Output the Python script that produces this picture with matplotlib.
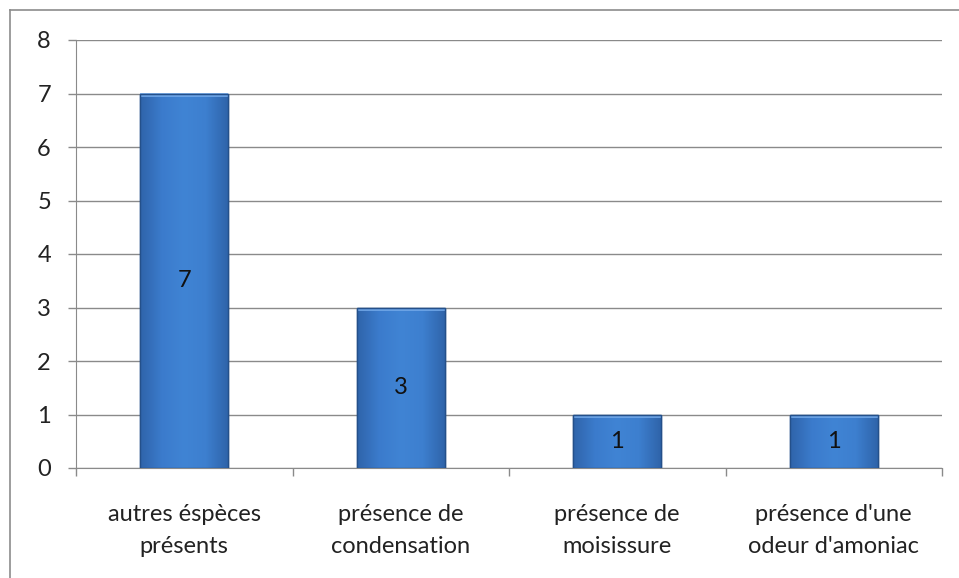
import matplotlib
matplotlib.use("Agg")
import matplotlib.pyplot as plt
import numpy as np
from matplotlib.colors import LinearSegmentedColormap
from matplotlib.patches import Rectangle
from matplotlib.lines import Line2D

categories = ["autres éspèces\nprésents", "présence de\ncondensation",
              "présence de\nmoisissure", "présence d'une\nodeur d'amoniac"]
values = [7, 3, 1, 1]
yticks = [0, 1, 2, 3, 4, 5, 6, 7, 8]

plt.rcParams['font.family'] = ['Lato', 'DejaVu Sans']

W, H = 959, 578
fig = plt.figure(figsize=(W/100, H/100), dpi=100)
ax = fig.add_axes([76/W, 1-468/H, (942-76)/W, (468-40)/H])

# outer frame (top and left edges visible, others run off the image)
fig.lines.append(Line2D([9.5/W, 9.5/W], [0, 1-10/H], transform=fig.transFigure,
                        color="#8c8c8c", linewidth=1.2))
fig.lines.append(Line2D([9.5/W, 1], [1-10/H, 1-10/H], transform=fig.transFigure,
                        color="#8c8c8c", linewidth=1.2))

x = np.arange(len(categories))
bw = 0.405
bars = ax.bar(x, values, width=bw, color="#3b7bcc", edgecolor="#24508a", linewidth=1.0, zorder=3)

cmap = LinearSegmentedColormap.from_list("b", ["#2f64aa", "#3b7bcc", "#4084d4", "#3d7fcf", "#2f64aa"])
grad = np.linspace(0, 1, 256).reshape(1, -1)
for b in bars:
    x0, y0 = b.get_x(), b.get_y()
    w, h = b.get_width(), b.get_height()
    im = ax.imshow(grad, cmap=cmap, aspect="auto", extent=[x0, x0 + w, y0, y0 + h], zorder=3.5)
    im.set_clip_path(b)
    ax.add_patch(Rectangle((x0, y0 + h - 0.07), w, 0.07, facecolor="#72a8e8", edgecolor="none",
                           zorder=3.6, alpha=0.85))
    ax.add_patch(Rectangle((x0, y0), w, h, fill=False, edgecolor="#24508a", linewidth=1.0, zorder=3.8))

for xi, v in zip(x, values):
    ax.text(xi, v/2, str(v), ha="center", va="center", fontsize=17, color="#111111", zorder=5)

ax.set_xlim(-0.5, len(categories) - 0.5)
ax.set_ylim(0, 8)
ax.set_yticks(yticks)
ax.set_yticklabels([str(t) for t in yticks], fontsize=17, color="#222222")
ax.yaxis.grid(True, color="#8a8a8a", linewidth=1.0, zorder=0)
ax.set_axisbelow(True)

ax.set_xticks(np.arange(-0.5, len(categories), 1.0))
ax.set_xticklabels([])
ax.set_xticks(x, minor=True)
ax.set_xticklabels(categories, minor=True, fontsize=17, color="#222222", linespacing=1.65)
ax.tick_params(axis="x", which="minor", length=0, pad=26)
ax.tick_params(axis="x", which="major", length=6, color="#8a8a8a", width=1)
ax.tick_params(axis="y", length=6, color="#8a8a8a", width=1, pad=12)

for s in ["top", "right"]:
    ax.spines[s].set_visible(False)
ax.spines["left"].set_color("#8a8a8a")
ax.spines["bottom"].set_color("#8a8a8a")

fig.savefig("out.png", dpi=100)
